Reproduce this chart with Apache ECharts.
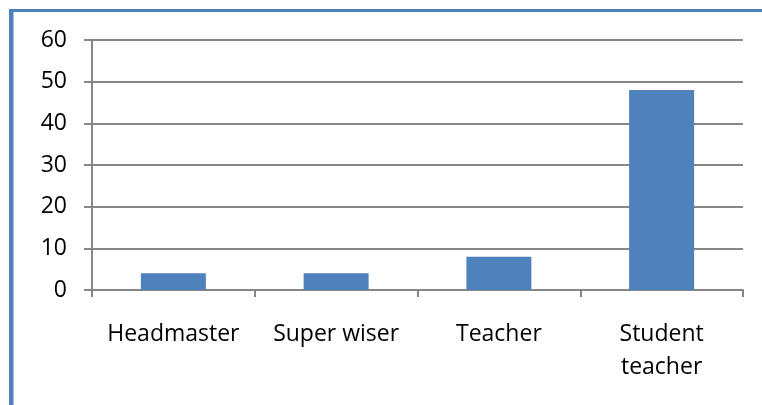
<!DOCTYPE html>
<html>
<head>
<meta charset="utf-8">
<script src="https://cdn.jsdelivr.net/npm/echarts@6/dist/echarts.min.js"></script>
<style>
html,body{margin:0;padding:0;background:#fff;}
#c{width:762px;height:405px;}
</style>
</head>
<body>
<div id="c"></div>
<script>
var categories = ['Headmaster', 'Super wiser', 'Teacher', 'Student\nteacher'];
var values = [4, 4, 8, 48];
var yTicks = [0, 10, 20, 30, 40, 50, 60];

var chart = echarts.init(document.getElementById('c'), null, {renderer: 'canvas'});
var font = '"Open Sans", sans-serif';
chart.setOption({
  animation: false,
  backgroundColor: '#ffffff',
  graphic: [
    {type: 'rect', shape: {x: 9, y: 9, width: 753, height: 3}, style: {fill: '#4f81bd'}, silent: true},
    {type: 'rect', shape: {x: 9, y: 9, width: 4.5, height: 396}, style: {fill: '#4f81bd'}, silent: true}
  ],
  grid: {left: 92, right: 19, top: 40, bottom: 115, containLabel: false},
  xAxis: {
    type: 'category',
    data: categories,
    axisLine: {show: true, lineStyle: {color: '#868686', width: 2}},
    axisTick: {show: true, alignWithLabel: false, length: 7, lineStyle: {color: '#868686', width: 2}},
    axisLabel: {color: '#000', fontFamily: font, fontSize: 23, margin: 28, lineHeight: 33, interval: 0},
    splitLine: {show: false}
  },
  yAxis: {
    type: 'value',
    min: yTicks[0],
    max: yTicks[yTicks.length - 1],
    interval: 10,
    axisLine: {show: true, lineStyle: {color: '#868686', width: 2}},
    axisTick: {show: true, length: 8, lineStyle: {color: '#868686', width: 2}},
    axisLabel: {color: '#000', fontFamily: font, fontSize: 23, margin: 25},
    splitLine: {show: true, lineStyle: {color: '#868686', width: 2}}
  },
  series: [{
    type: 'bar',
    data: values,
    barWidth: 65,
    itemStyle: {color: '#4f81bd'}
  }]
});
</script>
</body>
</html>
